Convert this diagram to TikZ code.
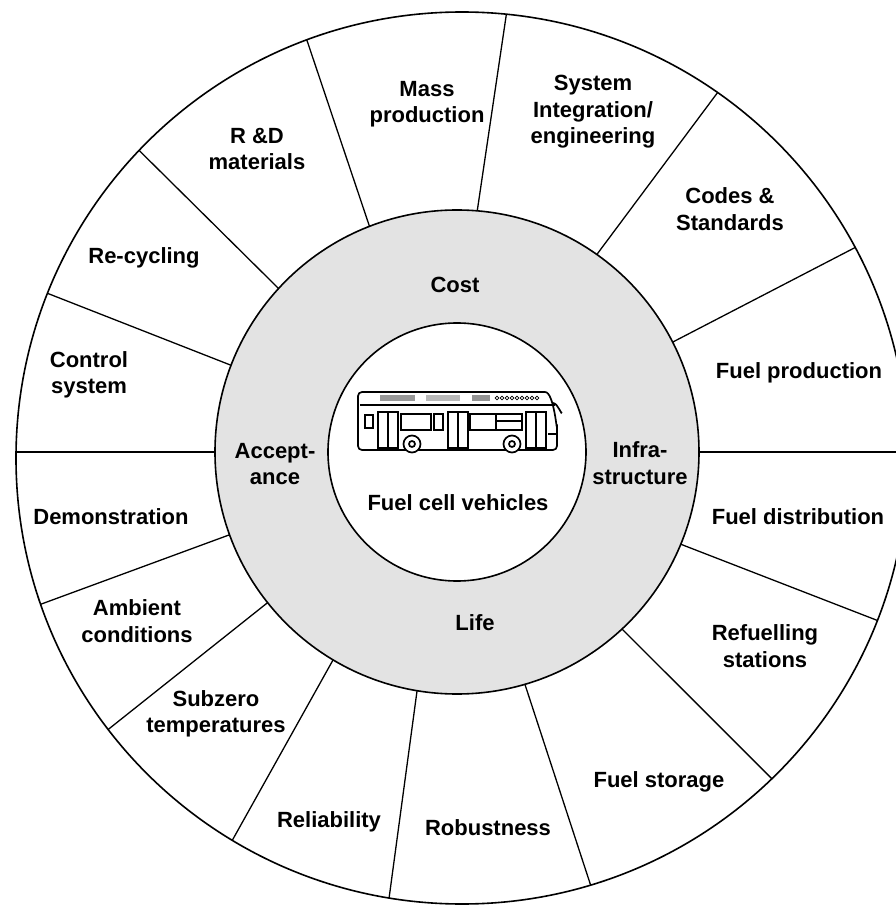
\documentclass[tikz,border=0pt]{standalone}
\usepackage{fontspec}
\setmainfont{Liberation Sans}
\definecolor{ringgray}{HTML}{E3E3E3}

\begin{document}
\begin{tikzpicture}[x=1pt, y=1pt,
    font=\fontsize{22}{26.5}\selectfont\bfseries,
    lbl/.style={align=center, inner sep=0pt},
    divider/.style={line width=1.3pt},
    rim/.style={line width=1.6pt}
]
\useasboundingbox (-457,-453) rectangle (438,452);

% wheel, ring and hub
\fill[white] (5,-6) circle (446);
\begin{scope}
  \clip (5,-6) circle (446);
  \foreach \ai/\ao in {0/0, 27/27.2, 54.7/54, 85.2/83.4, 111.2/109.9, 137.5/136.4,
                       159/158.8, 180/180, -160/-159.9, -141.5/-141.5, -120.8/-120,
                       -99.5/-98.6, -73.7/-72.8, -47/-46, -22.4/-21.8}
    \draw[divider] (\ai:242) -- (\ao:480);
\end{scope}
\draw[rim] (5,-6) circle (446);
\draw[rim, fill=ringgray] (0,0) circle (242);
\draw[rim, fill=white] (0,0) circle (129);

% bus icon
\begin{scope}[shift={(-99,60)}, yscale=-1, line width=1.7pt]
  \draw[rounded corners=4] (0,58) -- (0,0) -- (183,0) to[out=0,in=90] (199,30) -- (199,58) -- cycle;
  \fill[gray!80] (22,3) rectangle (57,9);
  \fill[gray!55] (68,3) rectangle (102,9);
  \fill[gray!85] (114,3) rectangle (132,9);
  \foreach \k in {0,...,8}
    \draw[line width=0.7pt] (139+5*\k,6) circle (1.8);
  \draw[line width=2pt] (2,13) -- (197,13);
  \draw (7,23) rectangle (15,36);
  \draw (43,22) rectangle (73,38);
  \draw (76,22) rectangle (85,38);
  \draw (112,22) rectangle (164,38) (138,22) -- (138,38) (138,29) -- (164,29);
  \foreach \d in {20,90,168}
    \draw (\d,20) rectangle (\d+20,56) (\d+10,20) -- (\d+10,56);
  \foreach \w in {54,154}
    \draw[fill=white] (\w,52) circle (8.5) (\w,52) circle (3);
  \draw (195,11) to[out=0,in=90] (204,20);
  \draw (190,42) -- (199,42);
\end{scope}

% hub and ring labels
\node[lbl] (fcv)    at (1,-51)   {Fuel cell vehicles};
\node[lbl] (cost)   at (-2,167)  {Cost};
\node[lbl] (accept) at (-182,-12) {Accept-\\ance};
\node[lbl] (infra)  at (183,-11) {Infra-\\structure};
\node[lbl] (life)   at (18,-171) {Life};

% outer segments
\node[lbl] (mass)    at (-30,348)   {Mass\\production};
\node[lbl] (sysint)  at (136,340)   {System\\Integration/\\engineering};
\node[lbl] (codes)   at (273,243)   {Codes \&\\Standards};
\node[lbl] (fprod)   at (342,79)    {Fuel production};
\node[lbl] (fdist)   at (341,-65)   {Fuel distribution};
\node[lbl] (refuel)  at (308,-194)  {Refuelling\\stations};
\node[lbl] (fstore)  at (202,-330)  {Fuel storage};
\node[lbl] (robust)  at (31,-376)   {Robustness};
\node[lbl] (reliab)  at (-128,-370) {Reliability};
\node[lbl] (subzero) at (-241,-262) {Subzero\\temperatures};
\node[lbl] (ambient) at (-320,-169) {Ambient\\conditions};
\node[lbl] (demo)    at (-346,-65)  {Demonstration};
\node[lbl] (control) at (-368,77)   {Control\\system};
\node[lbl] (recyc)   at (-313,194)  {Re-cycling};
\node[lbl] (rnd)     at (-200,303)  {R \&D\\materials};
\end{tikzpicture}
\end{document}
